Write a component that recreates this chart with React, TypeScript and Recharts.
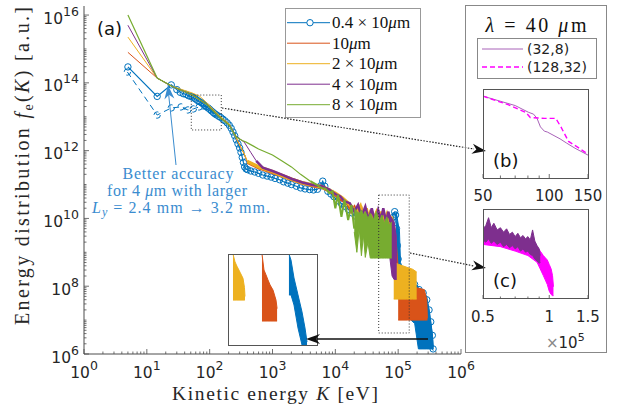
import React from 'react';
import { ComposedChart, Line, Area, XAxis, YAxis, ReferenceArea } from 'recharts';

const BLUE = '#0072BD';
const ORANGE = '#D95319';
const YELLOW = '#EDB120';
const PURPLE = '#7E2F8E';
const GREEN = '#77AC30';
const MAGENTA = '#FF00FF';
const LIGHT_PURPLE = '#a862b8';
const ANNO = '#3a8ccf';
const AX = '#4d4d4d';
const SERIF = '"Liberation Serif", "DejaVu Serif", serif';
const SANS = '"DejaVu Sans", sans-serif';

// ---- axis ticks ----
const X_DECADES = [1, 10, 100, 1e3, 1e4, 1e5, 1e6];
const Y_DECADES = [1e6, 1e7, 1e8, 1e9, 1e10, 1e11, 1e12, 1e13, 1e14, 1e15, 1e16];
const MINOR_STEPS = [2, 3, 4, 5, 6, 7, 8, 9];
const X_TICKS = X_DECADES.flatMap((d, i) => (i < X_DECADES.length - 1 ? [d, ...MINOR_STEPS.map((m) => m * d)] : [d]));
const Y_TICKS = Y_DECADES.flatMap((d, i) => (i < Y_DECADES.length - 1 ? [d, ...MINOR_STEPS.map((m) => m * d)] : [d]));
const X_DOMAIN = [1, 1e6];
const Y_DOMAIN = [1e6, 1.85e16];

const B_TICKS = [50, 60, 70, 80, 90, 100, 150];
const B_LABELS: Record<number, string> = { 50: '50', 100: '100', 150: '150' };
const C_TICKS = [5e4, 6e4, 7e4, 8e4, 9e4, 1e5, 1.5e5];
const C_LABELS: Record<number, string> = { 50000: '0.5', 100000: '1', 150000: '1.5' };

const LEGEND_NAMES = ['0.4 × 10μm', '10μm', '2 × 10μm', '4 × 10μm', '8 × 10μm'];
const LEGEND_COLORS = [BLUE, ORANGE, YELLOW, PURPLE, GREEN];

// ---- main panel (a): [K (eV), log10 f] ----
const BLUE_MAIN = [
  [5, 14.47], [14.6, 13.6], [24.5, 13.94], [30, 13.8], [34, 13.72], [38, 13.68], [42, 13.66], [46, 13.62],
  [50, 13.6], [53, 13.58], [57, 13.55], [60, 13.52], [64, 13.48], [68, 13.45], [73, 13.42], [78, 13.38],
  [83, 13.34], [88, 13.3], [94, 13.26], [100, 13.22], [107, 13.17], [115, 13.12], [122, 13.08], [130, 13.05],
  [140, 13.01], [150, 12.98], [162, 12.93], [175, 12.88], [190, 12.82], [205, 12.75], [220, 12.66], [235, 12.55],
  [250, 12.44], [265, 12.32], [282, 12.2], [300, 12.08], [315, 11.95], [330, 11.8], [345, 11.65], [360, 11.52],
  [380, 11.46], [400, 11.44], [450, 11.4], [520, 11.37], [600, 11.33], [700, 11.28], [820, 11.25], [950, 11.22],
  [1100, 11.18], [1300, 11.14], [1500, 11.08], [1750, 11.04], [2000, 11.0], [2400, 10.95], [2800, 10.9],
  [3300, 10.87], [3900, 10.85], [4500, 10.84], [5200, 10.86], [5800, 10.96], [6300, 11.1], [6800, 10.95],
  [7600, 10.8], [8500, 10.72], [9500, 10.64], [11000, 10.52], [12500, 10.44], [14000, 10.36], [16000, 10.27],
  [18500, 10.16], [21500, 10.06], [25000, 9.99], [29000, 9.94], [34000, 9.9], [40000, 9.87], [47000, 9.84],
  [55000, 9.82], [63000, 9.82], [72000, 9.84], [80000, 9.9], [85000, 10.05], [88000, 10.2], [91000, 10.1],
  [94000, 9.7], [97000, 9.2], [100000, 8.8], [105000, 8.5], [115000, 8.3], [130000, 8.2], [150000, 8.1],
  [183000, 8.05], [215000, 7.9], [250000, 7.8], [285000, 7.6], [310000, 7.3], [330000, 6.95], [350000, 6.55],
  [360000, 6.15],
];
const BLUE_OLD = [
  [4.9, 14.32], [14.6, 13.05], [24.5, 13.26], [35, 13.29], [45, 13.2], [55, 13.23], [68, 13.29], [79, 13.32],
  [88, 13.3], [99, 13.23], [118, 13.1],
];
const BLUE_TAIL = [
  [93000, 8.8, 10.2], [105000, 8.0, 9.6], [109000, 7.8, 8.7], [130000, 7.3, 8.3], [160000, 7.0, 8.15],
  [183000, 6.9, 8.1], [210000, 6.15, 7.95], [240000, 6.15, 7.9], [285000, 6.15, 7.7], [310000, 6.15, 7.3],
  [350000, 6.15, 6.56], [362000, 6.1, 6.2],
];

const ORANGE_TRUNK = [
  [5, 14.9], [14.6, 14.14], [25, 13.9], [53, 13.64], [89, 13.37], [141, 13.02], [205, 12.78], [265, 12.38],
  [355, 11.9], [400, 11.66],
];
const ORANGE_BAND = [
  [400, 11.66], [600, 11.5], [1000, 11.36], [1500, 11.24], [2000, 11.15], [3000, 11.04], [4500, 10.96],
  [6000, 10.92], [8000, 10.82], [10000, 10.7], [12000, 10.58], [14000, 10.5], [16000, 10.42], [18000, 10.22],
  [20000, 10.32], [23000, 10.05], [26000, 10.25], [29000, 9.9], [32000, 10.15], [35000, 9.75], [38000, 10.1],
  [42000, 9.85], [46000, 10.2], [50000, 9.8], [55000, 10.05], [60000, 9.7], [65000, 10.1], [70000, 9.8],
  [75000, 10.0], [80000, 9.9], [85000, 9.7], [90000, 9.2], [95000, 8.6], [100000, 8.3],
];
const ORANGE_TAIL = [
  [100000, 7.0, 8.3], [140000, 7.0, 8.0], [200000, 7.0, 7.95], [260000, 7.0, 7.9], [285000, 7.0, 7.6],
  [292000, 7.0, 7.05],
];

const YELLOW_TRUNK = [
  [5, 15.35], [14.6, 14.14], [25, 13.9], [53, 13.7], [70, 13.6], [89, 13.42], [141, 13.04], [205, 12.78],
  [265, 12.36], [355, 11.9], [400, 11.68],
];
const YELLOW_BAND = [
  [400, 11.68], [600, 11.52], [1000, 11.38], [1500, 11.25], [2000, 11.16], [3000, 11.05], [4500, 10.98],
  [6000, 10.94], [8000, 10.84], [10000, 10.74], [13000, 10.6], [16000, 10.45], [19000, 10.3], [22000, 10.18],
  [25000, 10.35], [28000, 10.0], [31000, 10.3], [34000, 9.9], [37000, 10.25], [41000, 9.95], [45000, 10.15],
  [50000, 9.85], [55000, 10.2], [60000, 9.9], [66000, 10.1], [72000, 9.85], [78000, 10.05], [82000, 9.8],
  [85000, 8.7],
];
const YELLOW_TAIL = [
  [85000, 7.62, 8.7], [100000, 7.62, 8.65], [137000, 7.62, 8.56], [170000, 7.62, 8.5], [197000, 7.62, 8.42],
];

const PURPLE_TRUNK = [
  [5, 15.7], [14.6, 14.14], [25, 13.9], [53, 13.64], [89, 13.37], [141, 13.0], [205, 12.75], [265, 12.42],
  [355, 12.25], [450, 11.95], [550, 11.7],
];
const PURPLE_BAND = [
  [550, 11.7], [700, 11.5], [1000, 11.4], [1500, 11.27], [2000, 11.17], [3000, 11.06], [4500, 10.98],
  [6000, 10.96], [8000, 10.85], [10000, 10.72], [12000, 10.65], [14000, 10.5], [17000, 10.45], [20000, 10.2],
  [23000, 10.4], [26000, 10.05], [30000, 10.35], [34000, 9.95], [38000, 10.3], [43000, 9.9], [48000, 10.25],
  [53000, 9.95], [58000, 10.3], [64000, 9.9], [70000, 10.2], [75000, 9.9],
];
const PURPLE_TAIL = [
  [73000, 8.9, 10.1], [80000, 8.3, 10.0], [86000, 8.2, 9.9], [93000, 8.2, 9.5], [95000, 8.2, 8.7],
];

const GREEN_TRUNK = [
  [5, 16.0], [14.6, 14.14], [25, 13.9], [53, 13.64], [89, 13.37], [141, 13.0], [205, 12.75], [265, 12.4],
  [330, 12.3], [380, 12.25], [600, 12.05], [1000, 11.87], [1400, 11.7], [2000, 11.52], [2800, 11.3], [4000, 11.1],
];
const GREEN_BAND = [
  [4000, 11.1], [5000, 11.0], [6000, 10.9], [7000, 10.88], [8000, 10.75], [9000, 10.8], [10000, 10.3],
  [11000, 10.7], [12500, 10.05], [14000, 10.55], [16000, 9.95], [18000, 10.4], [20000, 9.7],
];
const GREEN_TAIL = [
  [20000, 9.6, 10.3], [22000, 9.0, 10.2], [24000, 9.7, 10.15], [26000, 8.9, 10.25], [28000, 9.5, 10.1],
  [30000, 8.85, 10.2], [33000, 9.3, 10.0], [36000, 8.83, 10.15], [40000, 8.83, 9.95], [45000, 8.83, 10.2],
  [50000, 8.83, 9.9], [55000, 8.83, 10.1], [60000, 8.83, 9.85], [66000, 8.83, 10.05], [72000, 8.83, 9.8],
  [79000, 8.83, 9.9],
];

// ---- small inset inside (a): [K (keV), log10 lo, log10 hi] ----
const ZOOM_YELLOW = [
  [88.5, 7.48, 9.0], [96, 7.48, 8.74], [103, 7.48, 8.6], [114.5, 7.48, 8.4], [125.6, 7.48, 8.2],
  [131, 7.48, 7.9], [133, 7.48, 7.6],
];
const ZOOM_ORANGE = [
  [196, 6.79, 9.0], [203.5, 6.79, 8.47], [211, 6.79, 8.31], [218, 6.79, 8.15], [226, 6.79, 7.98],
  [237, 6.79, 7.81], [248, 6.79, 7.48], [252, 6.79, 7.2],
];
const ZOOM_BLUE = [
  [296, 7.65, 9.0], [303.6, 7.65, 8.8], [314.7, 7.32, 8.21], [329.6, 6.56, 7.65], [344.4, 6.0, 7.09],
  [355.5, 6.0, 6.56], [363, 6.0, 6.1],
];

// ---- panel (b): [K, log10 f] ----
const B_COARSE = [
  [50, 13.56], [60, 13.5], [70, 13.45], [80.6, 13.37], [84.8, 13.35], [88, 13.3], [91.2, 13.2], [95, 13.15],
  [98, 13.14], [112, 13.06], [120, 13.01], [131, 12.95], [150, 12.87],
];
const B_FINE = [
  [50, 13.56], [65, 13.46], [78.3, 13.37], [82, 13.31], [95, 13.3], [107, 13.3], [113, 13.2], [122.4, 13.03],
  [135, 12.96], [150, 12.88],
];

// ---- panel (c): [K, log10 lo, log10 hi] ----
const C_FINE = [
  [50000, 9.1, 9.7], [60000, 9.0, 9.6], [70000, 8.8, 9.4], [80000, 8.6, 9.2], [88000, 8.3, 9.0],
  [91000, 8.0, 8.8], [94000, 7.7, 8.6], [96000, 7.5, 8.5], [98000, 7.3, 8.4], [100000, 7.0, 8.2],
  [102000, 6.85, 8.0], [103500, 6.8, 7.7], [104500, 6.8, 7.2],
];
const C_COARSE = [
  [50000, 9.3, 9.8], [51500, 9.2, 9.95], [53000, 9.35, 10.3], [54500, 9.15, 9.85], [56000, 9.25, 10.05],
  [58000, 9.1, 9.75], [60000, 9.2, 9.85], [62000, 9.0, 9.65], [64000, 9.1, 9.8], [66000, 8.95, 9.55],
  [68000, 9.05, 9.65], [70000, 8.9, 9.45], [72000, 9.0, 9.6], [74000, 8.8, 9.4], [76000, 8.9, 9.5],
  [78000, 8.75, 9.35], [80000, 8.8, 9.45], [82000, 8.65, 9.3], [84000, 8.6, 9.75], [86000, 8.45, 9.25],
  [88000, 8.35, 9.05], [90000, 8.25, 8.9], [91000, 8.3, 8.6],
];

const pts = (rows: number[][]) => rows.map(([K, e]) => ({ K, f: 10 ** e }));
const rng = (rows: number[][]) => rows.map(([K, lo, hi]) => ({ K, r: [10 ** lo, 10 ** hi] }));

function LogTick(props: any) {
  const { x = 0, y = 0, payload, side, step = 1 } = props;
  const v = payload?.value ?? 1;
  const lg = Math.log10(v);
  const e = Math.round(lg);
  const major = Math.abs(lg - e) < 1e-6 && e % step === 0;
  const len = major ? 5 : 2.5;
  const end =
    side === 'bottom' ? [x, y - len] : side === 'top' ? [x, y + len] : side === 'left' ? [x + len, y] : [x - len, y];
  return (
    <g>
      <line x1={x} y1={y} x2={end[0]} y2={end[1]} stroke={AX} strokeWidth={0.8} />
      {major && side === 'bottom' && (
        <text x={x} y={y + 24} textAnchor="middle" fontFamily={SANS} fontSize={15.5} fill="#262626">
          10<tspan dy={-8} fontSize={12.5}>{e}</tspan>
        </text>
      )}
      {major && side === 'left' && (
        <text x={x - 5} y={y + 8.5} textAnchor="end" fontFamily={SANS} fontSize={15.5} fill="#262626">
          10<tspan dy={-8} fontSize={12.5}>{e}</tspan>
        </text>
      )}
    </g>
  );
}

function InsetTick(props: any) {
  const { x = 0, y = 0, payload, labels } = props;
  const lab = labels[payload?.value];
  return (
    <g>
      <line x1={x} y1={y} x2={x} y2={y - (lab ? 4 : 2.5)} stroke={AX} strokeWidth={0.8} />
      {lab && (
        <text x={x} y={y + 23} textAnchor="middle" fontFamily={SANS} fontSize={15} fill="#262626">
          {lab}
        </text>
      )}
    </g>
  );
}

function head(tx: number, ty: number, fx: number, fy: number, len: number, hw: number) {
  const d = Math.hypot(tx - fx, ty - fy);
  const ux = (tx - fx) / d;
  const uy = (ty - fy) / d;
  const bx = tx - ux * len;
  const by = ty - uy * len;
  const nx = tx - ux * len * 0.7;
  const ny = ty - uy * len * 0.7;
  return `M${tx},${ty} L${bx - uy * hw},${by + ux * hw} L${nx},${ny} L${bx + uy * hw},${by - ux * hw} Z`;
}

function muLabel(s: string) {
  const [a, b] = s.split('μ');
  return (
    <>
      {a}
      <tspan fontStyle="italic">μ</tspan>
      {b}
    </>
  );
}

const axisCommon = {
  type: 'number' as const,
  scale: 'log' as const,
  allowDataOverflow: true,
  interval: 0,
  tickSize: 0,
  tickMargin: 0,
  tickLine: false,
  axisLine: { stroke: AX },
};

// one stacked layer of panel (a); MATLAB draws the series one after another,
// so every series gets its own chart on top of the previous one
function Layer({ children, axes = false }: { children: React.ReactNode; axes?: boolean }) {
  return (
    <div style={{ position: 'absolute', left: 0, top: 0 }}>
      {axes ? (
        <ComposedChart width={621} height={412} margin={{ top: 6, right: 160, bottom: 0, left: 0 }}>
          <XAxis {...axisCommon} dataKey="K" domain={X_DOMAIN} ticks={X_TICKS} height={58} tick={<LogTick side="bottom" step={1} />} />
          <XAxis {...axisCommon} xAxisId="top" orientation="top" dataKey="K" domain={X_DOMAIN} ticks={X_TICKS} height={0} tick={<LogTick side="top" step={1} />} />
          <YAxis {...axisCommon} domain={Y_DOMAIN} ticks={Y_TICKS} width={84} tick={<LogTick side="left" step={2} />} />
          <YAxis {...axisCommon} yAxisId="right" orientation="right" domain={Y_DOMAIN} ticks={Y_TICKS} width={0} tick={<LogTick side="right" step={2} />} />
          {children}
        </ComposedChart>
      ) : (
        <ComposedChart width={621} height={412} margin={{ top: 6, right: 160, bottom: 58, left: 84 }}>
          <XAxis dataKey="K" type="number" scale="log" domain={X_DOMAIN} allowDataOverflow hide />
          <YAxis type="number" scale="log" domain={Y_DOMAIN} allowDataOverflow hide />
          {children}
        </ComposedChart>
      )}
    </div>
  );
}

export default function App() {
  const circle = { r: 3.2, stroke: BLUE, strokeWidth: 1, fill: 'none' };

  return (
    <div style={{ position: 'relative', width: 621, height: 412, background: '#fff' }}>
      <style>{'body{margin:0}'}</style>

      <Layer axes>
        <Area data={rng(BLUE_TAIL)} dataKey="r" type="linear" fill={BLUE} fillOpacity={1} stroke={BLUE} strokeWidth={1} isAnimationActive={false} />
        <Line data={pts(BLUE_MAIN)} dataKey="f" type="linear" stroke={BLUE} strokeWidth={1.2} dot={circle} isAnimationActive={false} />
        <Line data={pts(BLUE_OLD)} dataKey="f" type="linear" stroke={BLUE} strokeWidth={1} strokeDasharray="6 4" dot={circle} isAnimationActive={false} />
      </Layer>
      <Layer>
        <Line data={pts(ORANGE_TRUNK)} dataKey="f" type="linear" stroke={ORANGE} strokeWidth={1} dot={false} isAnimationActive={false} />
        <Line data={pts(ORANGE_BAND)} dataKey="f" type="linear" stroke={ORANGE} strokeWidth={3.5} dot={false} isAnimationActive={false} />
        <Area data={rng(ORANGE_TAIL)} dataKey="r" type="linear" fill={ORANGE} fillOpacity={1} stroke={ORANGE} strokeWidth={1} isAnimationActive={false} />
      </Layer>
      <Layer>
        <Line data={pts(YELLOW_TRUNK)} dataKey="f" type="linear" stroke={YELLOW} strokeWidth={1} dot={false} isAnimationActive={false} />
        <Line data={pts(YELLOW_BAND)} dataKey="f" type="linear" stroke={YELLOW} strokeWidth={3.5} dot={false} isAnimationActive={false} />
        <Area data={rng(YELLOW_TAIL)} dataKey="r" type="linear" fill={YELLOW} fillOpacity={1} stroke={YELLOW} strokeWidth={1} isAnimationActive={false} />
      </Layer>
      <Layer>
        <Line data={pts(PURPLE_TRUNK)} dataKey="f" type="linear" stroke={PURPLE} strokeWidth={1} dot={false} isAnimationActive={false} />
        <Line data={pts(PURPLE_BAND)} dataKey="f" type="linear" stroke={PURPLE} strokeWidth={2.5} dot={false} isAnimationActive={false} />
        <Area data={rng(PURPLE_TAIL)} dataKey="r" type="linear" fill={PURPLE} fillOpacity={1} stroke={PURPLE} strokeWidth={1} isAnimationActive={false} />
      </Layer>
      <Layer>
        <Line data={pts(GREEN_TRUNK)} dataKey="f" type="linear" stroke={GREEN} strokeWidth={1.2} dot={false} isAnimationActive={false} />
        <Line data={pts(GREEN_BAND)} dataKey="f" type="linear" stroke={GREEN} strokeWidth={2} dot={false} isAnimationActive={false} />
        <Area data={rng(GREEN_TAIL)} dataKey="r" type="linear" fill={GREEN} fillOpacity={1} stroke={GREEN} strokeWidth={1} isAnimationActive={false} />
        <ReferenceArea x1={51} x2={153} y1={10 ** 12.61} y2={10 ** 13.64} fill="none" fillOpacity={0} stroke="#333" strokeWidth={1} strokeDasharray="1 2" ifOverflow="visible" />
        <ReferenceArea x1={4.9e4} x2={1.5e5} y1={10 ** 6.62} y2={10 ** 10.69} fill="none" fillOpacity={0} stroke="#333" strokeWidth={1} strokeDasharray="1 2" ifOverflow="visible" />
      </Layer>

      {/* magnified tails inside (a) */}
      <div style={{ position: 'absolute', left: 228, top: 254, background: '#fff' }}>
        <ComposedChart width={89} height={91} margin={{ top: 0, right: 0, bottom: 0, left: 0 }}>
          <XAxis dataKey="K" type="number" domain={[70, 400]} allowDataOverflow hide />
          <YAxis type="number" scale="log" domain={[1e6, 1e9]} allowDataOverflow hide />
          <Area data={rng(ZOOM_YELLOW)} dataKey="r" type="linear" fill={YELLOW} fillOpacity={1} stroke={YELLOW} strokeWidth={1} isAnimationActive={false} />
          <Area data={rng(ZOOM_ORANGE)} dataKey="r" type="linear" fill={ORANGE} fillOpacity={1} stroke={ORANGE} strokeWidth={1} isAnimationActive={false} />
          <Area data={rng(ZOOM_BLUE)} dataKey="r" type="linear" fill={BLUE} fillOpacity={1} stroke={BLUE} strokeWidth={1} isAnimationActive={false} />
        </ComposedChart>
      </div>

      {/* panel (b) */}
      <div style={{ position: 'absolute', left: 470, top: 89 }}>
        <ComposedChart width={145} height={120} margin={{ top: 0, right: 27, bottom: 0, left: 13 }}>
          <XAxis {...axisCommon} dataKey="K" domain={[50, 150]} ticks={B_TICKS} height={31} axisLine={false} tick={<InsetTick labels={B_LABELS} />} />
          <YAxis type="number" scale="log" domain={[4e12, 4.4e13]} allowDataOverflow hide />
          <Line data={pts(B_COARSE)} dataKey="f" type="linear" stroke={LIGHT_PURPLE} strokeWidth={1} dot={false} isAnimationActive={false} />
          <Line data={pts(B_FINE)} dataKey="f" type="linear" stroke={MAGENTA} strokeWidth={1.4} strokeDasharray="5 3" dot={false} isAnimationActive={false} />
        </ComposedChart>
      </div>

      {/* panel (c) */}
      <div style={{ position: 'absolute', left: 470, top: 209 }}>
        <ComposedChart width={145} height={150} margin={{ top: 0, right: 27, bottom: 0, left: 13 }}>
          <XAxis {...axisCommon} dataKey="K" domain={[5e4, 1.5e5]} ticks={C_TICKS} height={60} axisLine={false} tick={<InsetTick labels={C_LABELS} />} />
          <YAxis type="number" scale="log" domain={[10 ** 6.65, 10 ** 10.69]} allowDataOverflow hide />
          <Area data={rng(C_FINE)} dataKey="r" type="linear" fill={MAGENTA} fillOpacity={1} stroke={MAGENTA} strokeWidth={1} isAnimationActive={false} />
          <Area data={rng(C_COARSE)} dataKey="r" type="linear" fill={PURPLE} fillOpacity={1} stroke={PURPLE} strokeWidth={1} isAnimationActive={false} />
        </ComposedChart>
      </div>

      <svg width={621} height={412} style={{ position: 'absolute', left: 0, top: 0, pointerEvents: 'none' }}>
        {/* axis titles */}
        <text transform="translate(29,166) rotate(-90)" textAnchor="middle" fontFamily={SERIF} fontSize={20} fill="#262626" textLength={318}>
          {'Energy distribution '}
          <tspan fontStyle="italic">f</tspan>
          <tspan dy={4} fontSize={14}>e</tspan>
          <tspan dy={-4}>(</tspan>
          <tspan fontStyle="italic">K</tspan>
          {') [a.u.]'}
        </text>
        <text x={275} y={400} textAnchor="middle" fontFamily={SERIF} fontSize={19.5} fill="#262626" textLength={206}>
          {'Kinetic energy  '}
          <tspan fontStyle="italic">K</tspan>
          {' [eV]'}
        </text>
        <text x={97} y={35} fontFamily={SANS} fontSize={18} fill="#111">(a)</text>

        {/* legend of (a) */}
        <rect x={285.5} y={8.5} width={135} height={109} fill="#fff" stroke="#999" />
        {LEGEND_NAMES.map((name, i) => {
          const ry = 22.7 + i * 20.5;
          return (
            <g key={name}>
              <line x1={287} x2={330} y1={ry} y2={ry} stroke={LEGEND_COLORS[i]} strokeWidth={1} />
              {i === 0 && <circle cx={310} cy={ry} r={3.2} fill="#fff" stroke={BLUE} />}
              <text x={332} y={ry + 5.5} fontFamily={SERIF} fontSize={17} fill="#111">
                {muLabel(name)}
              </text>
            </g>
          );
        })}

        {/* annotation */}
        <line x1={176} y1={165} x2={168.6} y2={94} stroke={ANNO} strokeWidth={1} />
        <path d={head(168, 85, 176, 165, 14, 5)} fill={ANNO} />
        <text x={178} y={179} textAnchor="middle" fontFamily={SERIF} fontSize={16} fill={ANNO} textLength={111}>
          Better accuracy
        </text>
        <text x={177} y={195.5} textAnchor="middle" fontFamily={SERIF} fontSize={16} fill={ANNO} textLength={140}>
          {'for 4 '}
          <tspan fontStyle="italic">μ</tspan>
          {'m with larger'}
        </text>
        <text x={181} y={213} textAnchor="middle" fontFamily={SERIF} fontSize={16} fill={ANNO} textLength={178}>
          <tspan fontStyle="italic">L</tspan>
          <tspan dy={3} fontSize={12} fontStyle="italic">y</tspan>
          <tspan dy={-3}>{' = 2.4 mm → 3.2 mm.'}</tspan>
        </text>

        {/* connectors to (b) and (c) */}
        <line x1={222} y1={108} x2={474} y2={149} stroke="#222" strokeWidth={1.2} strokeDasharray="1.5 1.5" />
        <path d={head(486, 151, 222, 108, 14, 5)} fill="#111" />
        <line x1={410} y1={253} x2={474} y2={266} stroke="#222" strokeWidth={1.2} strokeDasharray="1.5 1.5" />
        <path d={head(486, 268, 410, 253, 14, 5)} fill="#111" />

        {/* tail arrow to inner inset */}
        <rect x={228.5} y={254.5} width={89} height={91} fill="none" stroke="#555" />
        <line x1={428} y1={339} x2={315} y2={339} stroke="#111" strokeWidth={1.5} />
        <path d={head(306, 339, 428, 339, 14, 5)} fill="#111" />

        {/* right panel */}
        <rect x={465.5} y={5.5} width={141} height={347} fill="none" stroke="#888" />
        <text x={536} y={32} textAnchor="middle" fontFamily={SERIF} fontSize={20} fill="#111" textLength={101}>
          <tspan fontStyle="italic">λ</tspan>
          {' = 40 '}
          <tspan fontStyle="italic">μ</tspan>
          {'m'}
        </text>
        <rect x={477.5} y={38.5} width={119} height={40} fill="#fff" stroke="#888" />
        <line x1={482} x2={523} y1={49} y2={49} stroke={LIGHT_PURPLE} strokeWidth={1} />
        <text x={527} y={54} fontFamily={SANS} fontSize={14} fill="#222">(32,8)</text>
        <line x1={482} x2={523} y1={67} y2={67} stroke={MAGENTA} strokeWidth={1.5} strokeDasharray="5 3" />
        <text x={527} y={72} fontFamily={SANS} fontSize={14} fill="#222">(128,32)</text>

        <rect x={483.5} y={89.5} width={105} height={89} fill="none" stroke="#555" />
        <rect x={483.5} y={209.5} width={105} height={89} fill="none" stroke="#555" />
        <text x={493} y={167} fontFamily={SANS} fontSize={18} fill="#111">(b)</text>
        <text x={493} y={287} fontFamily={SANS} fontSize={18} fill="#111">(c)</text>
        <text x={546} y={348} fontFamily={SANS} fontSize={15} fill="#262626">
          <tspan fill="#888">×</tspan>10<tspan dy={-7} fontSize={11}>5</tspan>
        </text>
      </svg>
    </div>
  );
}
